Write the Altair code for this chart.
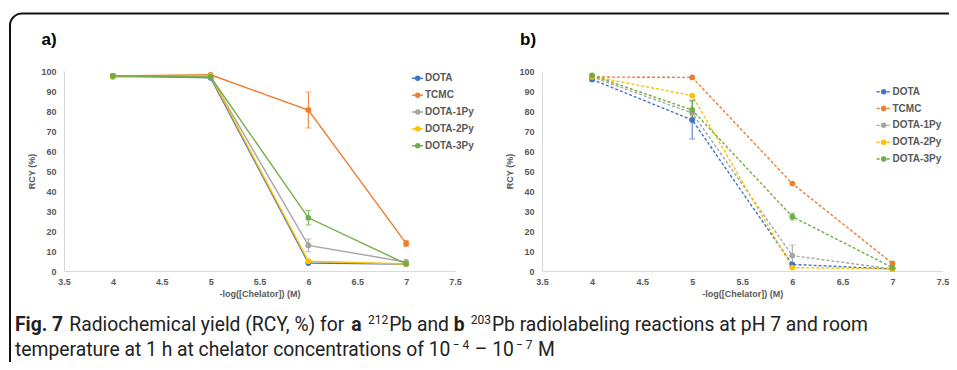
import altair as alt
import pandas as pd

# ---------------- data ----------------
names = ["DOTA", "TCMC", "DOTA-1Py", "DOTA-2Py", "DOTA-3Py"]
colors = ["#4472C4", "#ED7D31", "#A5A5A5", "#FFC000", "#70AD47"]
conc = [4, 5, 6, 7]
x_ticks = [3.5, 4, 4.5, 5, 5.5, 6, 6.5, 7, 7.5]
y_ticks = [0, 10, 20, 30, 40, 50, 60, 70, 80, 90, 100]

# panel a) 212Pb
a_dota = [97.5, 96.6, 4.0, 3.5]
a_tcmc = [97.5, 98.1, 80.5, 13.8]
a_1py = [97.5, 97.0, 12.8, 4.5]
a_2py = [97.0, 97.5, 4.9, 3.5]
a_3py = [97.5, 97.0, 26.6, 3.6]
a_dota_err = [0, 0, 0, 0]
a_tcmc_err = [0, 0, 9.0, 1.5]
a_1py_err = [0, 0, 3.2, 0]
a_2py_err = [0, 0, 0, 0]
a_3py_err = [0, 0, 3.6, 0]

# panel b) 203Pb
b_dota = [95.8, 75.5, 3.3, 1.0]
b_tcmc = [97.0, 96.8, 43.7, 3.8]
b_1py = [97.0, 79.0, 7.7, 1.0]
b_2py = [97.3, 87.7, 1.7, 1.0]
b_3py = [97.8, 80.5, 27.2, 1.7]
b_dota_err = [0, 9.5, 0, 0]
b_tcmc_err = [0, 0, 0, 0]
b_1py_err = [0, 0, 5.3, 0]
b_2py_err = [0, 0, 0, 0]
b_3py_err = [0, 5.0, 1.7, 0]

# caption segments: (text, kind) kind: n=normal, b=bold, s=superscript
caption_line1 = [("Fig. 7", "b"), ("Radiochemical yield (RCY, %) for", "n"), ("a", "b"),
                 ("212", "s"), ("Pb and", "n"), ("b", "b"), ("203", "s"),
                 ("Pb radiolabeling reactions at pH 7 and room", "n")]
caption_line2 = [("temperature at 1 h at chelator concentrations of 10", "n"), ("\u2212 4", "s"),
                 ("\u2013 10", "n"), ("\u2212 7", "s"), ("M", "n")]


def build(vals, errs):
    rows = []
    for i, n in enumerate(names):
        for j, c in enumerate(conc):
            v, e = vals[i][j], errs[i][j]
            rows.append(dict(series=n, idx=i, x=c, y=v, err=e, lo=v - e, hi=v + e))
    return pd.DataFrame(rows)


df_a = build([a_dota, a_tcmc, a_1py, a_2py, a_3py],
             [a_dota_err, a_tcmc_err, a_1py_err, a_2py_err, a_3py_err])
df_b = build([b_dota, b_tcmc, b_1py, b_2py, b_3py],
             [b_dota_err, b_tcmc_err, b_1py_err, b_2py_err, b_3py_err])
leg = pd.DataFrame({"series": names, "idx": list(range(len(names)))})
one = pd.DataFrame({"k": [0]})

# ---------------- styling ----------------
FONT = "Liberation Sans, Arial, sans-serif"
CAP_FONT = "Roboto, Liberation Sans, sans-serif"
W, H = 880, 200
RANGE_A = [0, 391]
RANGE_B = [478, 878.5]

color = alt.Color("series:N", scale=alt.Scale(domain=names, range=colors), legend=None)

ax_common = dict(domainColor="#D9D9D9", domainWidth=1, ticks=False, grid=False,
                 labelColor="#595959", labelFont=FONT, labelFontSize=9,
                 labelFontWeight="bold", titleColor="#595959", titleFont=FONT,
                 titleFontSize=9, titleFontWeight="bold", labelFlush=False,
                 labelOverlap=False)


def xaxis():
    return alt.Axis(orient="bottom", values=x_ticks, format="~g",
                    title="-log([Chelator]) (M)", labelPadding=6, titlePadding=3,
                    **ax_common)


def yaxis(offset):
    return alt.Axis(orient="left", values=y_ticks, title="RCY (%)", labelPadding=8,
                    titlePadding=4, offset=offset, **ax_common)


def X(rng, axis=None):
    return alt.X("x:Q", scale=alt.Scale(domain=[3.5, 7.5], range=rng, nice=False, zero=False),
                 axis=axis)


def Y(field, axis=None):
    return alt.Y(f"{field}:Q", scale=alt.Scale(domain=[0, 100], range=[H, 0], nice=False, zero=False),
                 axis=axis)


def panel(df, rng, yoff, dash):
    lkw = dict(strokeWidth=1.4)
    if dash:
        lkw["strokeDash"] = dash
    line = alt.Chart(df).mark_line(**lkw).encode(
        x=X(rng, xaxis()), y=Y("y", yaxis(yoff)), color=color, order="x:Q")
    errd = df[df["err"] > 0]
    rule = alt.Chart(errd).mark_rule(strokeWidth=1).encode(
        x=X(rng), y=Y("lo"), y2="hi:Q", color=color)
    cap_lo = alt.Chart(errd).mark_tick(orient="horizontal", size=6, thickness=1).encode(
        x=X(rng), y=Y("lo"), color=color)
    cap_hi = alt.Chart(errd).mark_tick(orient="horizontal", size=6, thickness=1).encode(
        x=X(rng), y=Y("hi"), color=color)
    pts = alt.Chart(df).mark_circle(size=34, opacity=1).encode(
        x=X(rng), y=Y("y"), color=color)
    return [line, rule, cap_lo, cap_hi, pts]


def legend(x0, x1, xd, xt, y0, y1, dash):
    ly = alt.Y("idx:Q", scale=alt.Scale(domain=[0, 4], range=[y0, y1], nice=False, zero=False),
               axis=None)
    rkw = dict(strokeWidth=1.4)
    if dash:
        rkw["strokeDash"] = dash
    r = alt.Chart(leg).mark_rule(**rkw).encode(x=alt.value(x0), x2=alt.value(x1), y=ly, color=color)
    c = alt.Chart(leg).mark_circle(size=30, opacity=1).encode(x=alt.value(xd), y=ly, color=color)
    t = alt.Chart(leg).mark_text(align="left", baseline="middle", font=FONT, fontSize=10,
                                 fontWeight="bold", color="#595959").encode(
        x=alt.value(xt), y=ly, text="series:N")
    return [r, c, t]


def label(text, x, y, size, weight="normal", font=CAP_FONT, color_="#222222"):
    return alt.Chart(one).mark_text(text=text, align="left", baseline="alphabetic",
                                    fontSize=size, fontWeight=weight, font=font,
                                    color=color_).encode(x=alt.value(x), y=alt.value(y))


# approximate Roboto advance widths (em) for laying out the caption segments
_RW = {" ": .248, "a": .531, "b": .547, "c": .510, "d": .550, "e": .517, "f": .339,
       "g": .547, "h": .537, "i": .242, "l": .242, "m": .855, "n": .539, "o": .556,
       "p": .547, "r": .331, "s": .504, "t": .320, "u": .537, "y": .473, "C": .638,
       "F": .541, "H": .697, "M": .852, "P": .617, "R": .602, "Y": .592, "(": .334,
       ")": .339, ",": .192, "%": .715, ".": .257, "\u2013": .674, "\u2212": .554}


def text_w(s, size, bold=False):
    w = sum(_RW.get(ch, .562) for ch in s) * size * 1.02
    return w * (1.05 if bold else 1.0)


CAP_SIZE = 19.3
SUP_SIZE = 12


def caption(segments, x0, base):
    out = []
    x = x0
    prev = None
    for text, kind in segments:
        if prev is not None and kind != "s" and not (prev == "s" and text.startswith("Pb")):
            x += _RW[" "] * CAP_SIZE
        elif kind == "s" and prev == "b":
            x += _RW[" "] * CAP_SIZE
        if kind == "s":
            out.append(label(text, x + 1, base - 7, SUP_SIZE, "normal"))
            x += text_w(text, SUP_SIZE) + 1.5
        else:
            out.append(label(text, x, base, CAP_SIZE, "bold" if kind == "b" else "normal"))
            x += text_w(text, CAP_SIZE, kind == "b")
        prev = kind
    return out


border = alt.Chart(one).mark_rect(fillOpacity=0, stroke="#111111", strokeWidth=2,
                                  cornerRadius=12).encode(
    x=alt.value(-54), x2=alt.value(920), y=alt.value(-57.5), y2=alt.value(320))

layers = [border]
layers += panel(df_a, RANGE_A, 0, None)
layers += panel(df_b, RANGE_B, -478, [3, 2])
layers += legend(348, 359, 353.7, 361, 7.3, 74.7, None)
layers += legend(812.7, 826.7, 819.7, 828.5, 20.7, 88, [3, 2])
layers += [
    label("a)", -22.5, -26.5, 17, "bold", FONT, "#000000"),
    label("b)", 456, -26.5, 17, "bold", FONT, "#000000"),
]
layers += caption(caption_line1, -49, 260)
layers += caption(caption_line2, -49, 285)

chart = alt.layer(*layers).resolve_scale(x="independent", y="independent").properties(
    width=W, height=H,
    padding={"left": 56, "top": 63, "right": 5, "bottom": 91},
    autosize=alt.AutoSizeParams(type="none"),
).configure_view(stroke="transparent")

chart.save("out.html", embed_options={"renderer": "svg", "actions": False})
